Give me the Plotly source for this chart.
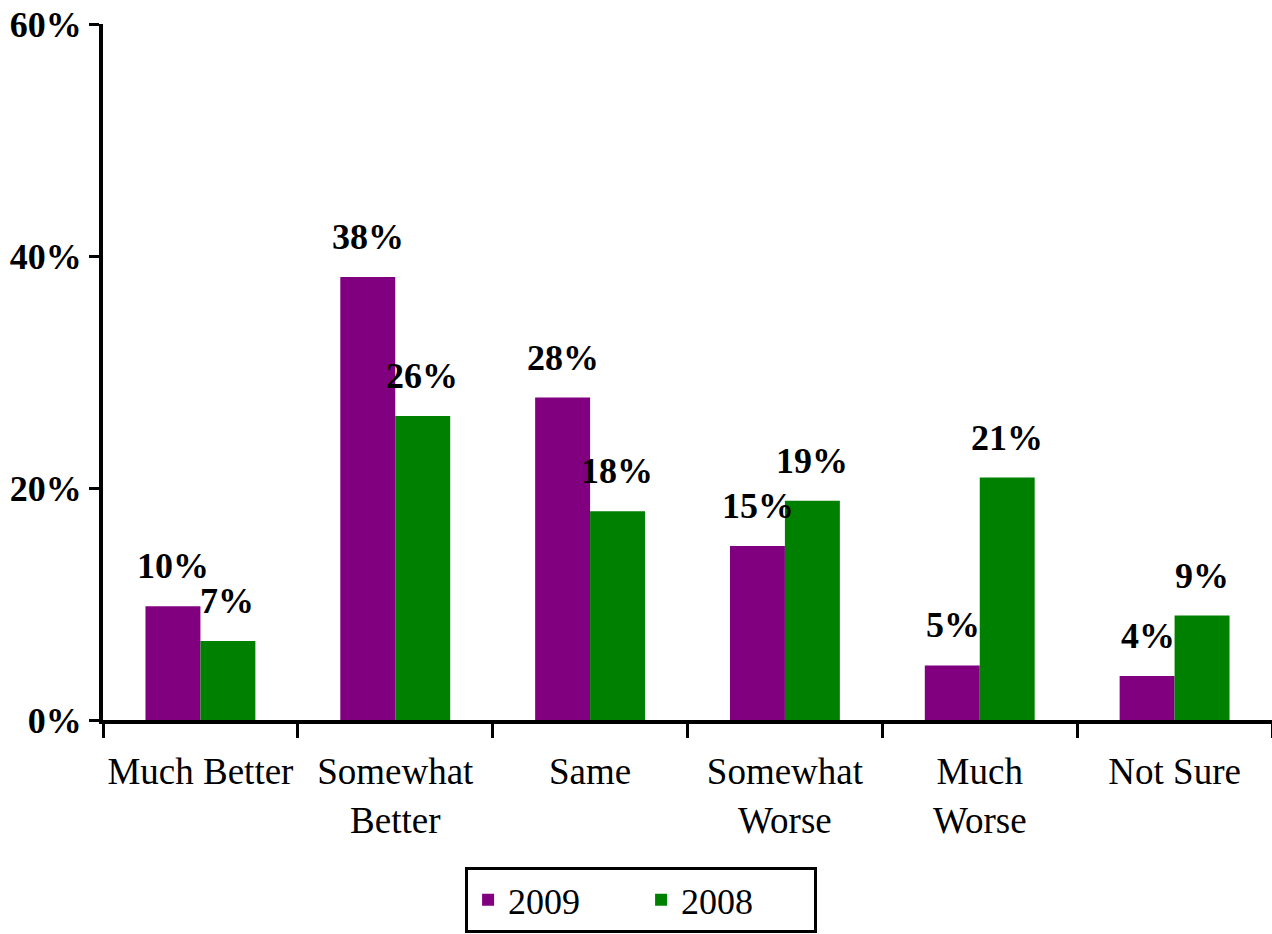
import plotly.graph_objects as go

categories = ["Much Better", "Somewhat<br>Better", "Same", "Somewhat<br>Worse", "Much<br>Worse", "Not Sure"]
values_2009 = [9.8, 38.2, 27.8, 15.0, 4.7, 3.8]
values_2008 = [6.8, 26.2, 18.0, 18.9, 20.9, 9.0]
labels_2009 = ["10%", "38%", "28%", "15%", "5%", "4%"]
labels_2008 = ["7%", "26%", "18%", "19%", "21%", "9%"]
y_ticks = [0, 20, 40, 60]

FONT = "Liberation Serif, Times New Roman, serif"

fig = go.Figure()
fig.add_trace(go.Bar(x=categories, y=values_2009, name="2009",
                     marker=dict(color="#800080", line=dict(width=0))))
fig.add_trace(go.Bar(x=categories, y=values_2008, name="2008",
                     marker=dict(color="#008000", line=dict(width=0))))

# value labels above each bar
for cat, v, t in zip(categories, values_2009, labels_2009):
    fig.add_annotation(x=cat, y=v, text=t, showarrow=False, xshift=-27,
                       yanchor="bottom", yshift=18,
                       font=dict(family=FONT, size=36, color="black", weight="bold"))
for cat, v, t in zip(categories, values_2008, labels_2008):
    fig.add_annotation(x=cat, y=v, text=t, showarrow=False, xshift=27,
                       yanchor="bottom", yshift=18,
                       font=dict(family=FONT, size=36, color="black", weight="bold"))

fig.update_layout(
    width=1272, height=934,
    margin=dict(l=103, r=0, t=24, b=214, autoexpand=False),
    plot_bgcolor="white", paper_bgcolor="white",
    barmode="group", bargap=0.436, bargroupgap=0,
    font=dict(family=FONT, size=37, color="black"),
    showlegend=True,
    legend=dict(orientation="h", xref="container", yref="container",
                x=0.504, y=0.072, xanchor="center", yanchor="top",
                bordercolor="black", borderwidth=3, bgcolor="white",
                font=dict(family=FONT, size=36), traceorder="normal",
                itemwidth=30, entrywidthmode="pixels", entrywidth=128),
)
fig.update_xaxes(showline=True, linecolor="black", linewidth=4,
                 ticks="outside", tickson="boundaries", ticklen=14, tickwidth=3,
                 tickcolor="black", showgrid=False, tickangle=0,
                 ticklabelstandoff=16,
                 tickfont=dict(family=FONT, size=37))
fig.update_yaxes(range=[0, 60], tickvals=y_ticks,
                 ticktext=[f"{v}%" for v in y_ticks],
                 showline=True, linecolor="black", linewidth=4,
                 ticks="outside", ticklen=10, tickwidth=3, tickcolor="black",
                 showgrid=False, zeroline=False,
                 tickfont=dict(family=FONT, size=36, weight="bold"))

fig.write_html("out.html", config={"displayModeBar": False},
               post_script="document.body.style.margin='0';")
